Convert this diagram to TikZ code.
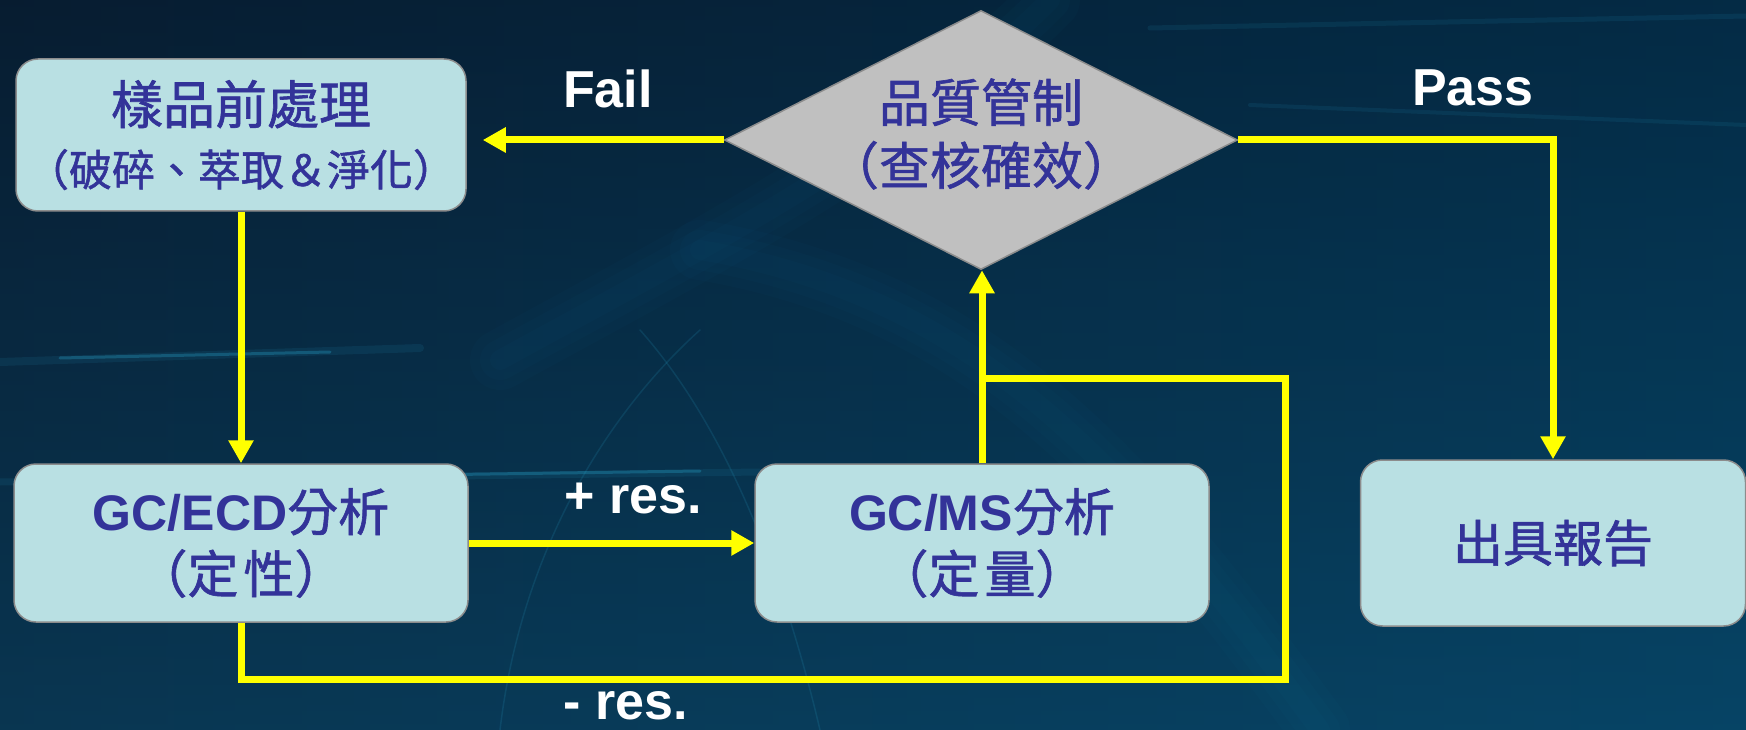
\documentclass[tikz,border=0pt]{standalone}
\usepackage{fontspec}
\setmainfont{Liberation Sans}
\newfontfamily\cjk[FakeBold=1.2]{Noto Sans CJK TC}
\usetikzlibrary{shapes.geometric,arrows.meta}
\definecolor{bgL}{HTML}{081F35}
\definecolor{bgM}{HTML}{0B5274}
\definecolor{bgR}{HTML}{03395A}
\definecolor{bgT}{HTML}{061A2C}
\definecolor{glow}{HTML}{2AA8D0}
\definecolor{flowy}{HTML}{FFFF00}
\definecolor{boxfill}{HTML}{B9E0E3}
\definecolor{boxline}{HTML}{8C8C8C}
\definecolor{qcfill}{HTML}{C0C0C0}
\definecolor{txt}{HTML}{333399}
\begin{document}
\begin{tikzpicture}[x=1pt,y=-1pt,
  box/.style={draw=boxline, line width=1.5pt, fill=boxfill, rounded corners=22pt,
    text=txt, align=center, inner sep=0pt},
  qcshape/.style={diamond, draw=boxline, line width=1.5pt, fill=qcfill, inner sep=0pt},
  boxtext/.style={text=txt, align=center, inner sep=0pt},
  flow/.style={draw=flowy, line width=7pt, -{Triangle[length=23pt,width=24pt]}},
  link/.style={draw=flowy, line width=7pt},
  lab/.style={text=white, font=\bfseries\fontsize{52}{60}\selectfont, inner sep=0pt},
  streak/.style={line cap=round, draw=glow},
]
% background
\useasboundingbox (0,0) rectangle (1746,730);
\shade[left color=bgL, middle color=bgM, right color=bgR] (0,0) rectangle (1746,730);
\shade[top color=bgT, bottom color=bgM, opacity=0.45] (0,0) rectangle (1746,730);
% light streaks
\draw[streak, line width=8pt, opacity=0.10] (0,362) -- (420,348);
\draw[streak, line width=3pt, opacity=0.30] (60,358) -- (330,352);
\draw[streak, line width=7pt, opacity=0.10] (0,482) -- (760,472);
\draw[streak, line width=3pt, opacity=0.30] (420,475) -- (700,471);
\draw[streak, line width=5pt, opacity=0.10] (1150,28) -- (1746,16);
\draw[streak, line width=4pt, opacity=0.10] (1250,105) -- (1746,125);
\foreach \w in {60,40,20}{
  \draw[streak, line width=\w pt, opacity=0.025] (700,250) .. controls (1000,300) and (1150,500) .. (1320,730);
  \draw[streak, line width=\w pt, opacity=0.025] (1050,0) .. controls (900,150) and (700,250) .. (500,360);
}
\draw[streak, line width=1.5pt, opacity=0.15] (640,330) .. controls (720,420) and (780,560) .. (820,730);
\draw[streak, line width=1.5pt, opacity=0.15] (500,730) .. controls (520,560) and (600,420) .. (700,330);

% nodes
\node[box, minimum width=450pt, minimum height=152pt, text width=450pt,
  font=\cjk\fontsize{43}{62}\selectfont] (b1) at (241,135)
  {{\fontsize{52}{62}\selectfont 樣品前處理}\\（破碎、萃取＆淨化）};
\node[box, minimum width=454pt, minimum height=158pt,
  font=\cjk\fontsize{51}{62}\selectfont] (b2) at (241,543)
  {{\normalfont\bfseries\fontsize{50}{62}\selectfont GC/ECD}分析\\（定\hspace{5pt}性）};
\node[box, minimum width=454pt, minimum height=158pt,
  font=\cjk\fontsize{51}{62}\selectfont] (b3) at (982,543)
  {{\normalfont\bfseries\fontsize{50}{62}\selectfont GC/MS}分析\\（定\hspace{5pt}量）};
\node[box, minimum width=385pt, minimum height=166pt,
  font=\cjk\fontsize{50}{62}\selectfont] (b4) at (1553,543) {出具報告};
\node[qcshape, minimum width=513pt, minimum height=259pt] (qc) at (981,140) {};
\node[boxtext, font=\cjk\fontsize{51}{63}\selectfont] (qct) at (981,134)
  {品質管制\\（查核確效）};

% labels
\node[lab] (lfail) at (608,89) {Fail};
\node[lab] (lpass) at (1473,88) {Pass};
\node[lab] (lplus) at (633,499) {+ res.};
\node[lab] (lminus) at (626,706) {- res.};

% connectors
\coordinate (c1) at (1285,679);
\coordinate (j) at (982,378);
\draw[flow, shorten >=16pt] (qc.west) -- (qc.west -| b1.east);
\draw[flow] (qc.east) -| (b4.north);
\draw[flow] (b1.south) -- (b2.north);
\draw[flow] (b2.east) -- (b3.west);
\draw[flow] (b3.north) -- (b3.north |- qc.south);
\draw[link] (b2.south) |- (c1) |- (j);
\end{tikzpicture}
\end{document}
